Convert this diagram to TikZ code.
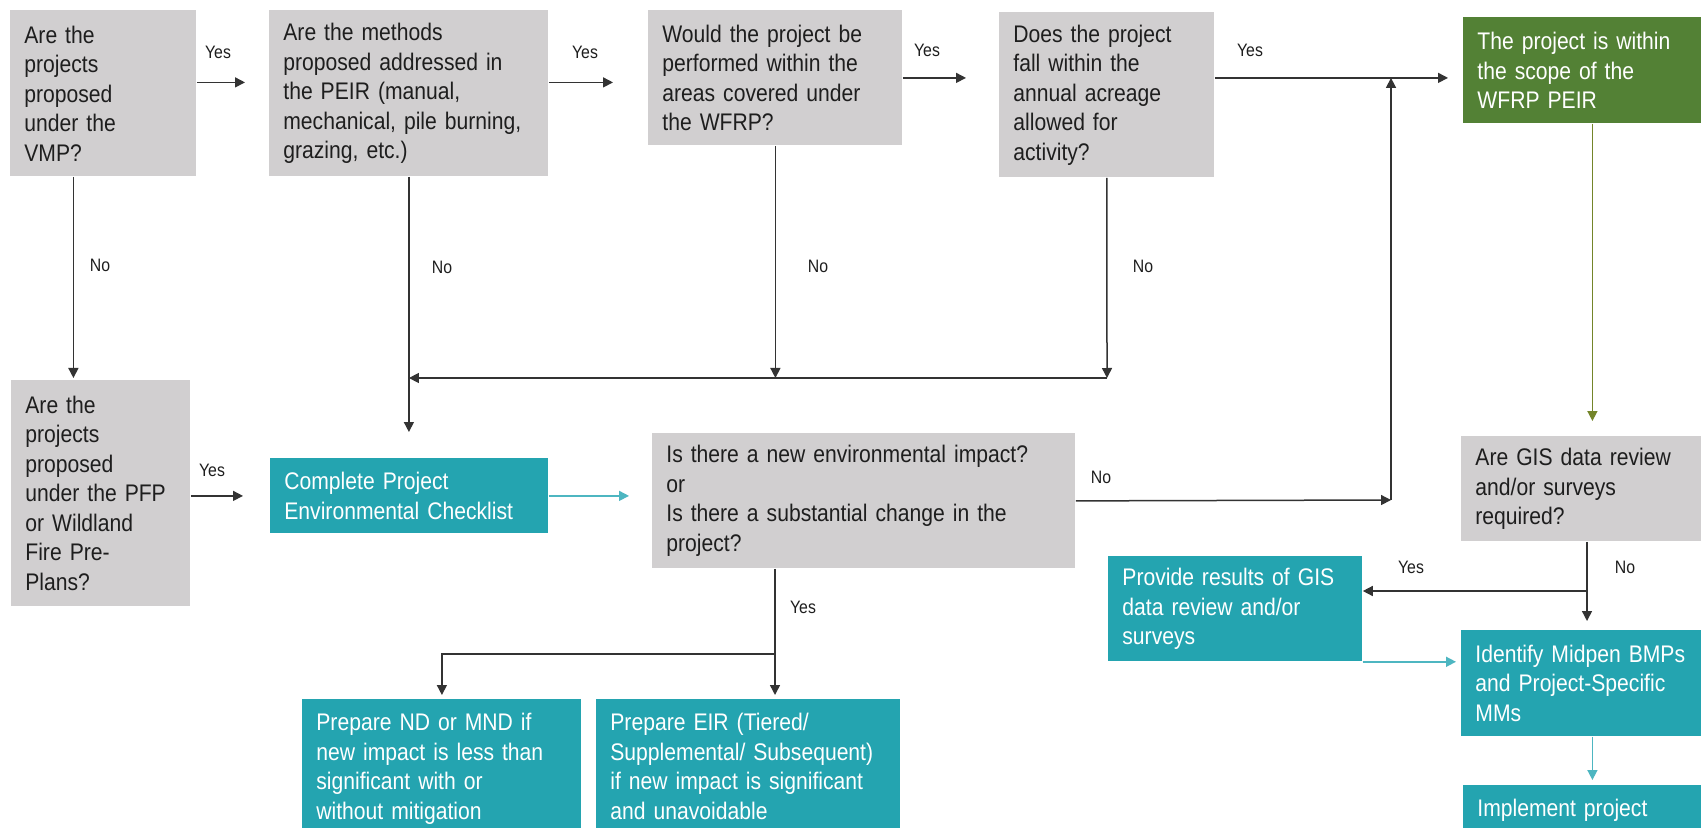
\documentclass[tikz,border=0pt]{standalone}
\usepackage{fontspec}
\setmainfont{Liberation Sans}[FakeStretch=0.88]
\usetikzlibrary{arrows.meta}
\hyphenpenalty=10000
\exhyphenpenalty=10000
\definecolor{boxgrey}{HTML}{D1CFD0}
\definecolor{boxteal}{HTML}{24A4B0}
\definecolor{boxgreen}{HTML}{538135}
\definecolor{lineteal}{HTML}{4DB6C1}
\definecolor{lineolive}{HTML}{74852A}
\definecolor{linedark}{HTML}{333333}
\definecolor{textdark}{HTML}{1E1E1E}
\tikzset{
    boxfont/.style={font=\fontsize{12}{14.75}\selectfont},
    qbox/.style={boxfont, fill=boxgrey, text=textdark, align=left, anchor=north west, inner xsep=7pt, inner ysep=4pt},
    stepbox/.style={qbox, fill=boxteal, text=white},
    okbox/.style={qbox, fill=boxgreen, text=white},
    endbox/.style={stepbox, inner ysep=7pt},
    lbl/.style={font=\fontsize{9}{10}\selectfont, text=textdark, inner sep=0pt},
    arr/.style={draw=linedark, line width=0.75pt, -{Triangle[length=5pt,width=5pt]}},
    plain/.style={draw=linedark, line width=0.75pt},
    tealarr/.style={arr, draw=lineteal, fill=lineteal},
    olivearr/.style={arr, draw=lineolive, fill=lineolive}
}

\begin{document}
\begin{tikzpicture}[x=0.5pt, y=-0.5pt]
    \fill[white] (0,0) rectangle (1701,828);
    \useasboundingbox (0,0) rectangle (1701,828);
% Questions along the top
    \node[qbox, text width=79pt, minimum height=83pt] (vmp) at (10,10)
        {Are the\\projects\\proposed\\under the\\VMP?};
    \node[qbox, text width=125.5pt, minimum height=83pt] (peir) at (269,10)
        {Are the methods\\proposed addressed in\\the PEIR (manual,\\mechanical, pile burning,\\grazing, etc.)};
    \node[qbox, text width=113pt, minimum height=67.5pt] (wfrp) at (648,10)
        {Would the project be\\performed within the\\areas covered under\\the WFRP?};
    \node[qbox, text width=93.5pt, minimum height=82.5pt] (acre) at (999,12)
        {Does the project\\fall within the\\annual acreage\\allowed for\\activity?};
    \node[okbox, text width=115pt, minimum height=53pt] (scope) at (1463,17)
        {The project is within\\the scope of the\\WFRP PEIR};
% Middle row
    \node[qbox, text width=75.5pt, minimum height=113pt] (pfp) at (11,380)
        {Are the\\projects\\proposed\\under the PFP\\or Wildland\\Fire Pre-\\Plans?};
    \node[stepbox, text width=125pt, minimum height=37.5pt] (check) at (270,458)
        {Complete Project\\Environmental Checklist};
    \node[qbox, text width=197.5pt, minimum height=67.5pt] (impact) at (652,433)
        {Is there a new environmental impact?\\or\\Is there a substantial change in the\\project?};
    \node[qbox, text width=117pt, minimum height=52.5pt] (gis) at (1461,436)
        {Are GIS data review\\and/or surveys\\required?};
    \node[stepbox, text width=113pt, minimum height=52.5pt] (provide) at (1108,556)
        {Provide results of GIS\\data review and/or\\surveys};
    \node[stepbox, text width=117pt, minimum height=53pt] (identify) at (1461,630)
        {Identify Midpen BMPs\\and Project-Specific\\MMs};
% Bottom boxes, cut by the page edge
    \node[endbox, text width=116pt] (implement) at (1463,785) {Implement project};
    \node[endbox, text width=125.5pt] (nd) at (302,699)
        {Prepare ND or MND if\\new impact is less than\\significant with or\\without mitigation};
    \node[endbox, text width=138pt] (eir) at (596,699)
        {Prepare EIR (Tiered/\\Supplemental/ Subsequent)\\if new impact is significant\\and unavoidable};
% Junctions
    \coordinate (nojoin) at (1107,378);
    \coordinate (merge) at (1391,500);
    \coordinate (yesfork) at (775,654);
    \coordinate (gisfork) at (1587,591);
% Yes path
    \draw[arr, shorten >=12pt] ([yshift=5.5pt]vmp.east) -- ([yshift=5.5pt]vmp.east -| peir.west);
    \draw[arr, shorten >=17.5pt] ([yshift=5.5pt]peir.east) -- ([yshift=5.5pt]peir.east -| wfrp.west);
    \draw[arr, shorten >=16.5pt] (wfrp.east) -- (wfrp.east -| acre.west);
    \draw[arr, shorten >=7.5pt] (wfrp.east -| acre.east) -- (wfrp.east -| scope.west);
    \draw[arr] (merge) -- (merge |- wfrp.east);
    \draw[arr] (impact.east) -- (merge);
% No path
    \draw[arr, shorten >=1pt] ([xshift=-15pt]vmp.south) -- ([xshift=-15pt]vmp.south |- pfp.north);
    \draw[arr, shorten >=13pt] (peir.south) -- (peir.south |- check.north);
    \draw[arr] (wfrp.south) -- (wfrp.south |- nojoin);
    \draw[arr] (acre.south) -- (nojoin);
    \draw[arr] (nojoin) -- (nojoin -| peir.south);
    \draw[arr, shorten >=13.5pt] (pfp.east |- check.west) -- (check.west);
    \draw[tealarr, shorten >=11.5pt] (check.east) -- (check.east -| impact.west);
    \draw[plain] (impact.south -| yesfork) -- (yesfork);
    \draw[arr, shorten >=2pt] (yesfork) -- (yesfork |- eir.north);
    \draw[arr, shorten >=2pt] (yesfork) -| (nd.north);
% Right column
    \draw[olivearr, shorten >=7.5pt] (scope.south) -- (gis.north);
    \draw[plain] (gis.south -| gisfork) -- (gisfork);
    \draw[arr, shorten >=4.5pt] (gisfork) -- (gisfork |- identify.north);
    \draw[arr] (gisfork) -- (gisfork -| provide.east);
    \draw[tealarr, shorten >=2.5pt] (provide.south east) -- (provide.south east -| identify.west);
    \draw[tealarr, shorten >=2.5pt] (identify.south) -- (identify.south |- implement.north);
% Labels
    \node[lbl] (yes1) at (218,52) {Yes};
    \node[lbl] (yes2) at (585,52) {Yes};
    \node[lbl] (yes3) at (927,50) {Yes};
    \node[lbl] (yes4) at (1250,50) {Yes};
    \node[lbl] (no1) at (100,265) {No};
    \node[lbl] (no2) at (442,267) {No};
    \node[lbl] (no3) at (818,266) {No};
    \node[lbl] (no4) at (1143,266) {No};
    \node[lbl] (yes5) at (212,470) {Yes};
    \node[lbl] (no5) at (1101,477) {No};
    \node[lbl] (yes6) at (803,607) {Yes};
    \node[lbl] (yes7) at (1411,567) {Yes};
    \node[lbl] (no6) at (1625,567) {No};
\end{tikzpicture}
\end{document}
